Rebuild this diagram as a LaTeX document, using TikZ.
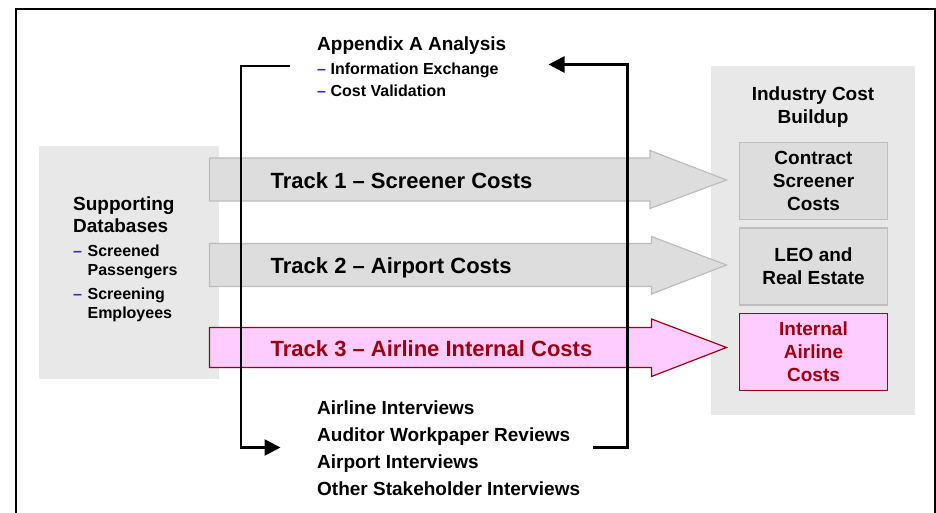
\documentclass[tikz,border=0pt]{standalone}
\usepackage{fontspec}
\setmainfont{Liberation Sans}
\usetikzlibrary{positioning,arrows.meta}

\definecolor{panelgray}{HTML}{E8E8E8}
\definecolor{boxgray}{HTML}{DDDDDD}
\definecolor{boxline}{HTML}{BDBDBD}
\definecolor{trackpink}{HTML}{FFCCFF}
\definecolor{trackred}{HTML}{9C0010}
\definecolor{dashblue}{HTML}{2E2EC8}

\newcommand{\bdash}{{\color{dashblue}--}}

\begin{document}
\begin{tikzpicture}[
        x=1pt, y=-1pt,
        panel/.style={
            rectangle,
            fill=panelgray,
            inner sep=0pt
        },
        costbox/.style={
            rectangle,
            draw=boxline,
            fill=boxgray,
            line width=1.2pt,
            minimum width=148pt,
            minimum height=77pt,
            inner sep=0pt,
            align=center,
            font=\bfseries\fontsize{19}{23}\selectfont
        },
        grayarrow/.style={
            draw=boxline,
            fill=boxgray,
            line width=1.2pt
        },
        pinkarrow/.style={
            draw=trackred,
            fill=trackpink,
            line width=1.2pt
        },
        tracklabel/.style={
            anchor=base west,
            inner sep=0pt,
            font=\bfseries\fontsize{22}{26}\selectfont
        },
        txt/.style={
            anchor=base west,
            inner sep=0pt,
            font=\bfseries\fontsize{19}{27}\selectfont
        },
        small/.style={
            anchor=base west,
            inner sep=0pt,
            font=\bfseries\fontsize{16}{22}\selectfont
        },
        loop/.style={
            line width=2.6pt,
            -{Triangle[length=16pt,width=16pt]}
        },
        frame/.style={
            line width=2pt
        }
    ]

    \useasboundingbox (0,0) rectangle (936,513);

    % Frame
    \draw[frame] (16,513) -- (16,9) -- (934.5,9) -- (934.5,513);

    % Background panels
    \node[panel, minimum width=179.4pt, minimum height=233.3pt] (support) at (129,262.7) {};
    \node[panel, minimum width=204pt, minimum height=349pt] (industry) at (813,240.5) {};

    % Supporting databases
    \node[txt, font=\bfseries\fontsize{19}{21.5}\selectfont] (supptitle) at (73,211)
        {\begin{tabular}[t]{@{}l@{}}Supporting\\Databases\end{tabular}};
    \node[small, font=\bfseries\fontsize{16}{19}\selectfont] (supplist) at (73,256.7)
        {\begin{tabular}[t]{@{}l@{\hspace{5.5pt}}l@{}}
            \bdash & Screened\\ & Passengers\\[5pt]
            \bdash & Screening\\ & Employees
        \end{tabular}};

    % Industry cost buildup
    \node[txt, anchor=base, font=\bfseries\fontsize{19}{23}\selectfont] (indtitle) at (813,100.8)
        {\begin{tabular}[t]{@{}c@{}}Industry Cost\\Buildup\end{tabular}};
    \node[costbox] (contract) at (813.5,180.8) {Contract\\Screener\\Costs};
    \node[costbox] (leo) at (813.5,266.4) {LEO and\\Real Estate};
    \node[costbox, draw=trackred, fill=trackpink, text=trackred] (internal) at (813.5,351.8) {Internal\\Airline\\Costs};

    % Track arrows
    \filldraw[grayarrow] (209.5,158) -- (650,158) -- (650,150.5) -- (726.5,180)
        -- (650,208.5) -- (650,201) -- (209.5,201) -- cycle;
    \filldraw[grayarrow] (209.5,243.5) -- (651.5,243.5) -- (651.5,236.5) -- (726.5,265)
        -- (651.5,294) -- (651.5,286.5) -- (209.5,286.5) -- cycle;
    \filldraw[pinkarrow] (209.5,327.5) -- (651.5,327.5) -- (651.5,319) -- (726.5,347.5)
        -- (651.5,376.5) -- (651.5,367.5) -- (209.5,367.5) -- cycle;

    \node[tracklabel] (track1) at (270.5,188.3) {Track 1 -- Screener Costs};
    \node[tracklabel] (track2) at (270.5,273.3) {Track 2 -- Airport Costs};
    \node[tracklabel, text=trackred] (track3) at (270.5,356.7) {Track 3 -- Airline Internal Costs};

    % Appendix A analysis
    \node[txt] (appendix) at (317,50.8) {Appendix A Analysis};
    \node[small] (applist) at (317,74.7)
        {\begin{tabular}[t]{@{}l@{\hspace{4.5pt}}l@{}}
            \bdash & Information Exchange\\
            \bdash & Cost Validation
        \end{tabular}};

    % Interviews
    \node[txt] (interviews) at (317,414)
        {\begin{tabular}[t]{@{}l@{}}Airline Interviews\\Auditor Workpaper Reviews\\
            Airport Interviews\\Other Stakeholder Interviews\end{tabular}};

    % Feedback loop
    \coordinate (topL) at (290,66);
    \coordinate (botL) at (280.5,447.5);
    \coordinate (botR) at (593,447.5);
    \coordinate (topR) at (548.5,64.5);
    \draw[loop] (topL) -- ++(-49,0) |- (botL);
    \draw[loop] (botR) -- ++(34.5,0) |- (topR);

\end{tikzpicture}
\end{document}
